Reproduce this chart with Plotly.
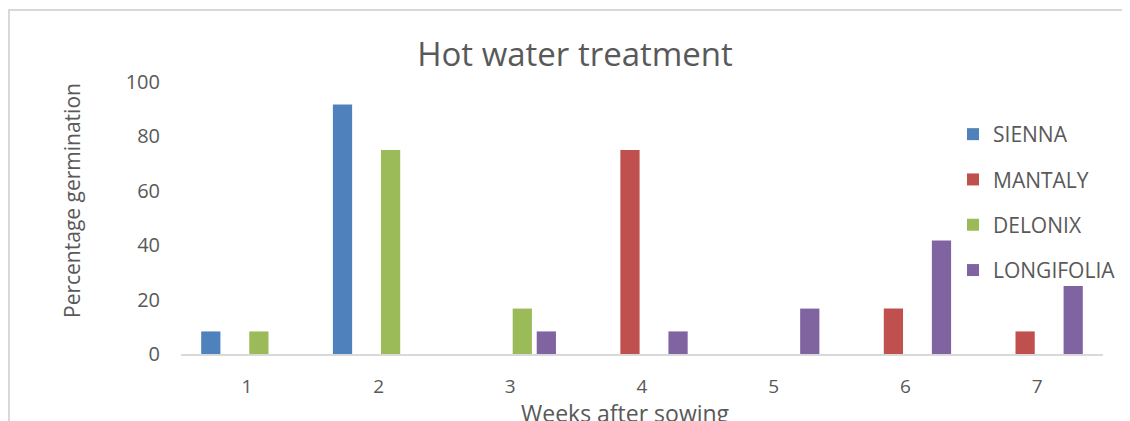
import plotly.graph_objects as go

weeks = ["1", "2", "3", "4", "5", "6", "7"]
sienna = [8.3, 91.7, 0, 0, 0, 0, 0]
mantaly = [0, 0, 0, 75, 0, 16.7, 8.3]
delonix = [8.3, 75, 16.7, 0, 0, 0, 0]
longifolia = [0, 0, 8.3, 8.3, 16.7, 41.7, 25]

series = [
    ("SIENNA", sienna, "#4F81BD"),
    ("MANTALY", mantaly, "#C0504D"),
    ("DELONIX", delonix, "#9BBB59"),
    ("LONGIFOLIA", longifolia, "#8064A2"),
]

font = "Open Sans"
gray = "#595959"

fig = go.Figure()
for name, vals, col in series:
    fig.add_trace(go.Bar(x=weeks, y=vals, name=name, marker_color=col,
                         marker_line_width=0, legendgroup=name))

# figure is placed 8px into the page by the default body margin
W, H = 1130, 421
L, R, T, B = 173, 35, 74, 75
pw = W - L - R
ph = H - T - B

def px(x):
    return (x - L) / pw

def py(y):
    return (H - B - y) / ph

fig.update_layout(
    width=W, height=H,
    margin=dict(l=L, r=R, t=T, b=B, autoexpand=False),
    paper_bgcolor="white", plot_bgcolor="white",
    barmode="group", bargap=0.27, bargroupgap=0.2,
    font=dict(family=font, color=gray, size=20),
    modebar=dict(bgcolor="rgba(0,0,0,0)", color="rgba(0,0,0,0)",
                 activecolor="rgba(0,0,0,0)"),
    title=dict(text="Hot water treatment", x=567 / W, xanchor="center",
               y=1 - 46 / H, yanchor="middle",
               font=dict(size=33, color=gray, family=font)),
    legend=dict(x=px(945), xanchor="left", y=py(106), yanchor="top",
                font=dict(size=21, color=gray), tracegroupgap=15,
                itemwidth=30, bgcolor="rgba(0,0,0,0)"),
    xaxis=dict(showline=True, linecolor="#d9d9d9", linewidth=1.5,
               showgrid=False, ticks="", tickfont=dict(size=19, color=gray),
               ticklabelstandoff=14),
    yaxis=dict(range=[0, 100], tickvals=[0, 20, 40, 60, 80, 100],
               showgrid=False, zeroline=False, showline=False, ticks="",
               tickfont=dict(size=20, color=gray), ticklabelstandoff=20),
    annotations=[
        dict(text="Weeks after sowing", xref="paper", yref="paper",
             x=px(617), y=py(387), xanchor="center", yanchor="top",
             showarrow=False, font=dict(size=23, color=gray)),
        dict(text="Percentage germination", xref="paper", yref="paper",
             x=px(64), y=py(193), xanchor="center", yanchor="middle",
             textangle=-90, showarrow=False, font=dict(size=21, color=gray)),
    ],
    shapes=[
        dict(type="line", xref="paper", yref="paper",
             x0=px(0), x1=px(W + 5), y0=py(2), y1=py(2),
             line=dict(color="#d9d9d9", width=2)),
        dict(type="line", xref="paper", yref="paper",
             x0=px(1), x1=px(1), y0=py(2), y1=py(H + 5),
             line=dict(color="#d9d9d9", width=2)),
    ],
)

fig.write_html("out.html")
